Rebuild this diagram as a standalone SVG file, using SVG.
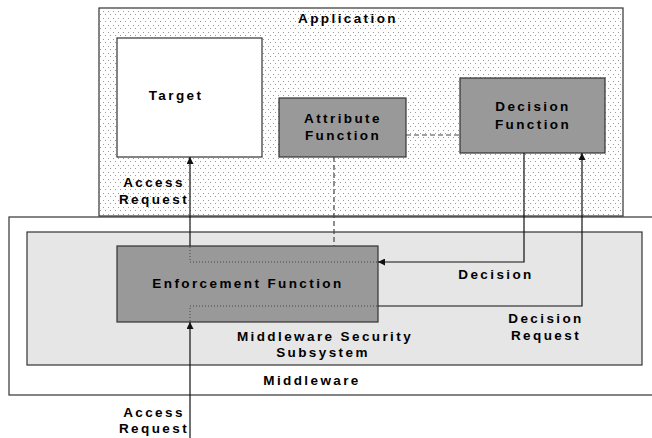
<svg xmlns="http://www.w3.org/2000/svg" width="652" height="438" viewBox="0 0 652 438">
  <style>
    text { font-family: "Liberation Sans", Arial, sans-serif; font-weight: bold; font-size: 13.5px; letter-spacing: 2.4px; fill: #000; text-anchor: middle; }
    .box { stroke: #333; stroke-width: 1.2; }
    .fn { fill: #999999; }
    .line { fill: none; stroke: #111; stroke-width: 1.2; }
    .dash { fill: none; stroke: #444; stroke-width: 1.2; stroke-dasharray: 5 3; }
    .dot { fill: none; stroke: #444; stroke-width: 1; stroke-dasharray: 1 2; }
  </style>
  <defs>
    <pattern id="stipple" width="5" height="7" patternUnits="userSpaceOnUse">
      <rect width="5" height="7" fill="#ffffff"/>
      <rect x="0" y="0" width="1" height="1" fill="#9a9a9a"/>
      <rect x="3" y="4" width="1" height="1" fill="#9a9a9a"/>
    </pattern>
    <marker id="arrow" viewBox="0 0 10 10" refX="10" refY="5" markerWidth="7" markerHeight="7" markerUnits="userSpaceOnUse" orient="auto">
      <path d="M0,0 L10,5 L0,10 Z" fill="#111"/>
    </marker>
  </defs>

  <rect width="652" height="438" fill="#ffffff"/>

  <!-- Middleware (outer frame) -->
  <g id="middleware">
    <rect x="9" y="217" width="660" height="178" fill="#ffffff" class="box"/>
    <text x="312" y="385">Middleware</text>
  </g>

  <!-- Middleware Security Subsystem -->
  <g id="security-subsystem">
    <rect x="27" y="232" width="615" height="133" fill="#e6e6e6" class="box"/>
    <text x="325" y="341">Middleware Security</text>
    <text x="323" y="357">Subsystem</text>
  </g>

  <!-- Application -->
  <g id="application">
    <rect x="99" y="8" width="524" height="208" fill="url(#stipple)" class="box"/>
    <text x="348" y="23">Application</text>
  </g>

  <g id="target">
    <rect x="117" y="38" width="145" height="119" fill="#ffffff" class="box"/>
    <text x="176" y="100">Target</text>
  </g>

  <g id="attribute-function">
    <rect x="279" y="98" width="127" height="59" class="box fn"/>
    <text x="343" y="123">Attribute</text>
    <text x="343" y="140">Function</text>
  </g>

  <g id="decision-function">
    <rect x="460" y="78" width="145" height="75" class="box fn"/>
    <text x="533" y="111">Decision</text>
    <text x="533" y="129">Function</text>
  </g>

  <g id="enforcement-function">
    <rect x="117" y="246" width="261" height="76" class="box fn"/>
    <path d="M190,247 V262 H377 M190,321 V306 H377" class="dot"/>
    <text x="248" y="288">Enforcement Function</text>
  </g>

  <!-- Connectors -->
  <g id="connectors">
    <path d="M190,246 V157" class="line" marker-end="url(#arrow)"/>
    <path d="M190,438 V322" class="line" marker-end="url(#arrow)"/>
    <path d="M524,153 V262 H378" class="line" marker-end="url(#arrow)"/>
    <path d="M378,306 H582 V153" class="line" marker-end="url(#arrow)"/>
    <path d="M406,135 H460" class="dash"/>
    <path d="M334,157 V246" class="dash"/>
  </g>

  <!-- Connector labels -->
  <g id="labels">
    <text x="154" y="187">Access</text>
    <text x="154" y="204">Request</text>
    <text x="154" y="417">Access</text>
    <text x="154" y="433">Request</text>
    <text x="496" y="279">Decision</text>
    <text x="546" y="323">Decision</text>
    <text x="546" y="340">Request</text>
  </g>
</svg>
